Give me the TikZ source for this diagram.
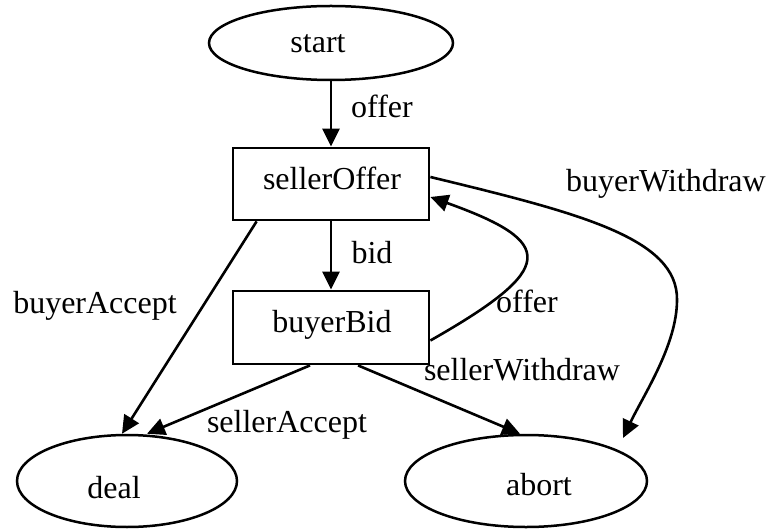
\documentclass[tikz,border=0pt]{standalone}
\usepackage{fontspec}
\setmainfont{Liberation Serif}
\usetikzlibrary{shapes.geometric,arrows.meta}
\begin{document}
\begin{tikzpicture}[x=1pt,y=-1pt,
  state/.style={draw,ellipse,line width=2.5pt,inner sep=0pt},
  box/.style={draw,rectangle,line width=2.8pt,inner sep=0pt,minimum width=196pt,minimum height=72pt},
  txt/.style={anchor=base,inner sep=0pt,font=\fontsize{32}{38}\selectfont},
  edge/.style={line width=2.6pt,-{Triangle[length=18pt,width=17pt]}},
]
\useasboundingbox (0,0) rectangle (770,529);

% states
\node[state,minimum width=244pt,minimum height=74pt] (start) at (331,43) {};
\node[box] (sO) at (331,184) {};
\node[box,minimum height=73pt] (bB) at (331,327.5) {};
\node[state,minimum width=220pt,minimum height=92pt] (deal) at (127,481) {};
\node[state,minimum width=242pt,minimum height=92pt] (abort) at (526,481) {};

% state names
\node[txt] (startT) at (318,53) {start};
\node[txt] (sOT) at (332,190) {sellerOffer};
\node[txt] (bBT) at (332,332) {buyerBid};
\node[txt] (dealT) at (114,498) {deal};
\node[txt] (abortT) at (539,495) {abort};

% transitions
\coordinate (bwEnd) at (623,438);
\draw[edge] (start) -- (sO);
\draw[edge] (sO) -- (bB);
\draw[edge] ([xshift=25pt]sO.south west) -- ([xshift=-5pt]deal.north);
\draw[edge] ([xshift=-21pt]bB.south) -- ([xshift=20pt]deal.north);
\draw[edge] ([xshift=27pt]bB.south) -- ([xshift=-6pt]abort.north);
\draw[edge] ([yshift=7pt]sO.east) .. controls (579,213) and (678,238) .. (677,300)
  .. controls (677,345) and (643,396) .. (bwEnd);
\draw[edge] ([yshift=-13pt]bB.east) .. controls (558,268) and (556,242) .. ([yshift=-13pt]sO.east);

% transition labels
\node[txt] (l1) at (382,118) {offer};
\node[txt] (l2) at (372,263) {bid};
\node[txt] (l3) at (95,313) {buyerAccept};
\node[txt] (l4) at (666,192) {buyerWithdraw};
\node[txt] (l5) at (527,312) {offer};
\node[txt] (l6) at (522,380) {sellerWithdraw};
\node[txt] (l7) at (287,432) {sellerAccept};
\end{tikzpicture}
\end{document}
